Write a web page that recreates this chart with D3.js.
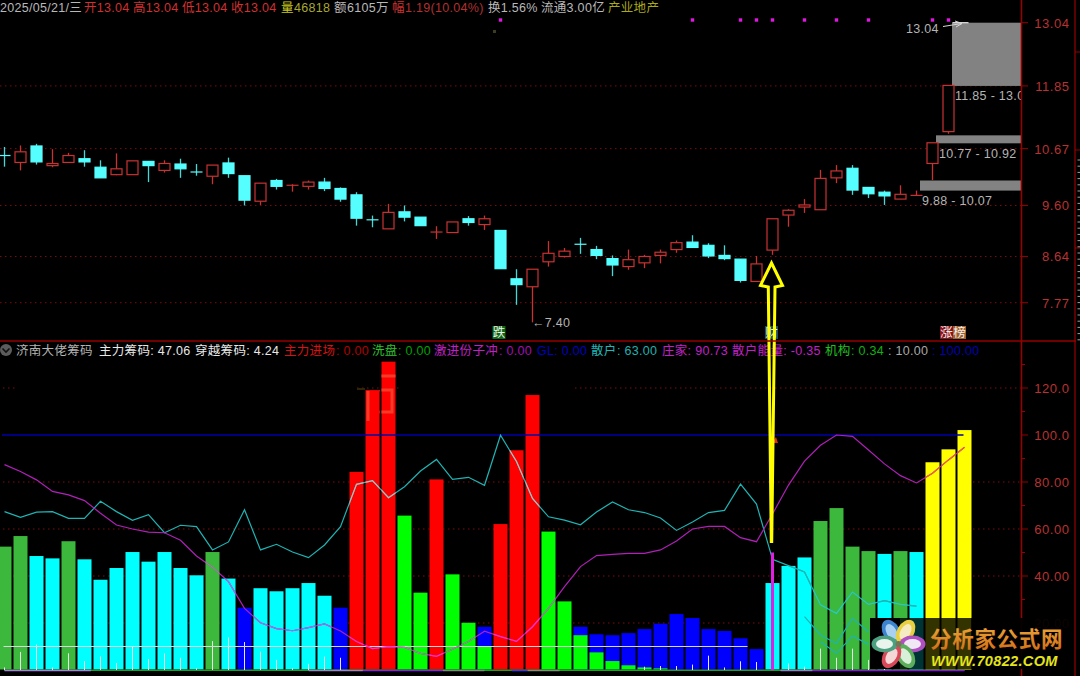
<!DOCTYPE html>
<html><head><meta charset="utf-8">
<style>
html,body{margin:0;padding:0;background:#000;overflow:hidden}
svg{display:block;position:absolute;left:0;top:0}
text{font-family:"Liberation Sans","Noto Sans CJK SC",sans-serif;font-size:12.5px;letter-spacing:.3px}
</style>
<script src="https://cdnjs.cloudflare.com/ajax/libs/d3/7.8.5/d3.min.js"></script>
</head><body><svg id="c" width="1080" height="676"></svg>
<script>
// ---- price panel data
const opens=[10.54,10.41,10.72,10.35,10.41,10.48,10.32,10.18,10.18,10.43,10.26,10.38,10.23,10.15,10.40,10.16,9.68,10.07,9.97,9.96,10.04,9.92,9.80,9.33,9.16,9.48,9.38,9.09,9.09,9.35,9.24,9.13,8.22,8.07,8.54,8.64,8.87,8.77,8.60,8.45,8.52,8.66,8.77,8.91,8.85,8.66,8.59,8.17,8.76,9.42,9.57,9.52,10.12,10.30,9.94,9.85,9.72,9.78,10.39,10.99,13.04];
const closes=[10.51,10.61,10.42,10.39,10.54,10.42,10.12,10.29,10.44,10.35,10.39,10.29,10.22,10.36,10.20,9.70,10.02,9.96,9.98,10.04,9.92,9.72,9.36,9.32,9.47,9.38,9.22,9.10,9.29,9.28,9.35,8.41,8.11,8.40,8.70,8.74,8.86,8.66,8.48,8.58,8.64,8.72,8.90,8.81,8.65,8.60,8.19,8.50,9.35,9.51,9.61,10.11,10.25,9.89,9.82,9.78,9.81,9.79,10.78,11.86,13.04];
const highs=[10.70,10.73,10.76,10.66,10.59,10.64,10.45,10.58,10.44,10.43,10.45,10.48,10.38,10.36,10.50,10.16,10.02,10.10,10.00,10.07,10.12,9.94,9.85,9.41,9.63,9.60,9.38,9.21,9.29,9.40,9.41,9.13,8.40,8.40,8.93,8.80,8.99,8.84,8.66,8.77,8.67,8.77,8.94,9.04,8.89,8.85,8.59,8.65,9.35,9.53,9.72,10.27,10.36,10.36,9.94,9.88,9.98,9.88,10.78,11.86,13.04];
const lows=[10.33,10.26,10.37,10.32,10.41,10.33,10.12,10.17,10.18,10.04,10.22,10.12,10.16,10.00,10.12,9.60,9.61,9.90,9.86,9.90,9.87,9.67,9.22,9.19,9.16,9.30,9.22,8.97,9.09,9.22,9.14,8.41,7.73,7.40,8.45,8.62,8.69,8.59,8.27,8.39,8.42,8.51,8.71,8.81,8.61,8.57,8.15,8.17,8.67,9.20,9.46,9.52,10.02,9.80,9.74,9.61,9.72,9.78,10.08,10.95,13.04];
const priceTicks=[13.04,11.85,10.67,9.60,8.64,7.77];
const dotSlots=[31,43,46,47,48,50,52,54,58,59];
const zoneLow=[9.88,10.77,11.85];
const zoneHigh=[10.07,10.92,13.04];
const zoneSlot=[57,58,59];
const zoneLabel=["9.88 - 10.07","10.77 - 10.92","11.85 - 13.04"];
// ---- indicator panel data
const barTops=[52.5,57,48.5,47.5,54.8,47.1,38.4,43.4,50.2,46.1,50.2,43.4,40.3,50.2,38.9,26.5,34.8,33.5,34.8,37,31.6,26.5,84.3,119.1,131.2,65.7,32.9,81.1,40.7,20.1,18.4,62.1,93.5,117,58.9,29.2,18.4,15.2,14.8,15.7,17.4,19.7,23.8,22.1,17.4,16.6,13.5,8.9,37,44.3,47.9,63.4,68.9,52.5,50.6,49.4,50.6,50.2,88.4,93.9,102.1];
const barKinds="ggccgccccccccgcbcccccbrrrllrllbrrrllbbbbbbbbbbbbcccggggcgcyyy".split("");
const innerGreen={30:9.9,36:14.8,37:7.5,38:3.8,39:2,40:1.1,41:.7};
const retail=[67.4,65,67.2,67.4,64.5,64.5,71.8,67.4,63.7,66.1,58.4,61.6,61,51.1,54.5,68.2,51.1,53.5,50.2,47.8,53.2,61,79,80.6,73.3,78,84.7,89.6,81.1,82,78.6,99.9,88.7,73,65.2,63.8,61.8,67.2,71.5,68.2,67,64.7,59.4,63,67,67.9,79.1,70.6,47.1,44.4,41.7,27.7,24.1,33.2,27.9,29.5,27.9,27.2];
const retail2=[[50,22.7],[51,14.9],[52,11.3],[53,22],[54,16.3]];
const retail3=[[51,12],[52,7.1],[53,14.5],[54,10.9]];
const dealer=[87.4,84.5,80.9,76,74.5,72.1,66.7,61.7,60,58.7,58.4,55.2,48.5,43.7,37.6,26.2,20.1,17.6,16.7,18,19.6,16.6,12.1,9.1,9.9,9.6,7.1,5.8,8.8,12.1,16.5,14.2,12.2,18.4,26.2,35.5,44,48.7,49.2,49.6,49.6,51.1,54.9,60,61.1,61.1,56.3,54.6,66.4,78.7,88.9,95.6,100,99.4,93.6,87.7,82.7,79.6,83.7,89.4,94.8];
const spikes=[1.1,7.7,10.9,1.1,7.1,3.8,5.8,3,10.2,4.7,7.1,5.2,.7,12.3,13.9,11.9,7.8,4.3,.7,2.6,5.7,5.2,0,0,0,0,0,0,0,0,0,0,0,0,0,0,0,0,0,0,1.4,1.7,1.7,2.3,6.1,1.1,3.7,3.4,0,2.8,1.4,9.1,5.2,9.1,4.3,3.5];
const indTicks=[120,100,80,60,40,20];
const indLabels=["120.0","100.0","80.00","60.00","40.00","20.00"];
const baseSegs=[[0,5.4,"#a884d8"],[19,22.4,"#9a88b8"],[22.4,27.4,"#7a30d0"],[27.4,30,"#808880"],[31.7,32.7,"#3a40d0"],[32.7,34.7,"#80907a"],[48.5,50.5,"#9a80c0"],[50.5,60,"#8020d0"]];
// ---- header text
const headLine1=[[0,"2025/05/21/三","#b8b8b8"],[84,"开13.04","#d03030"],[133,"高13.04","#d03030"],[182,"低13.04","#d03030"],[231,"收13.04","#d03030"],[281,"量","#c8c820"],[294,"46818","#a8a830"],[334,"额","#b8b8b8"],[347,"6105万","#b8b8b8"],[392,"幅","#d03030"],[405,"1.19(10.04%)","#b03030"],[488,"换1.56%","#b8b8b8"],[541,"流通3.00亿","#b8b8b8"],[608,"产业地产","#a8a818"]];
const headLine2=[[16,"济南大佬筹码","#b4b4b4"],[99,"主力筹码: 47.06","#e8e8e8"],[195,"穿越筹码: 4.24","#e8e8e8"],[284,"主力进场","#d81010"],[336,": 0.00","#b00000"],[372,"洗盘","#30c030"],[398,": 0.00","#00a000"],[434,"激进份子冲","#c020c8"],[499,": 0.00","#a010b0"],[537,"GL: 0.00","#0000c0"],[591,"散户","#20b8b8"],[617,": 63.00","#20b0b0"],[662,"庄家: 90.73","#c020c8"],[732,"散户能量: -0.35","#c020c8"],[825,"机构","#20c020"],[851,": 0.34","#10b010"],[888,": 10.00","#a8a8a8"],[932,": 100.00","#0000b0"]];

const svg=d3.select("#c");
const defs=svg.append("defs");
const slot=d3.scaleLinear().domain([0,60]).range([4.5,964.5]);
const py=d3.scaleLinear().domain([7.77,13.04]).range([302.7,22.7]);
const iy=d3.scaleLinear().domain([0,120]).range([670,388]);
const RED="#c83232",CY="#55ffff",AX="#960000",GRID="#7c0c0c";
const N=opens.length,idx=d3.range(N);

// grids
const gg=svg.append("g").attr("stroke",GRID).attr("stroke-dasharray","1.5 3.5");
priceTicks.slice(1).forEach(v=>gg.append("line").attr("x1",0).attr("x2",1021).attr("y1",py(v)).attr("y2",py(v)));
[80,60,40,20].forEach(v=>gg.append("line").attr("x1",3).attr("x2",1021).attr("y1",iy(v)).attr("y2",iy(v)));
[[3,18],[357,400],[575,1021]].forEach(s=>gg.append("line").attr("x1",s[0]).attr("x2",s[1]).attr("y1",iy(120)).attr("y2",iy(120)));

// zones
const zg=svg.append("g");
zoneLow.forEach((lo,i)=>{
  const x0=slot(zoneSlot[i])+3.5;
  zg.append("rect").attr("x",x0).attr("width",1021-x0).attr("y",py(zoneHigh[i])).attr("height",py(lo)-py(zoneHigh[i])).attr("fill","#828282");
});
// candles
const cg=svg.append("g");
idx.slice(0,60).forEach(i=>{
  const up=closes[i]>=opens[i],top=Math.max(opens[i],closes[i]),bot=Math.min(opens[i],closes[i]);
  const col=up?RED:CY,x=Math.round(slot(i)-.5)+.5;
  cg.append("line").attr("x1",x).attr("x2",x).attr("y1",py(highs[i])).attr("y2",py(lows[i])).attr("stroke",up?RED:"#45d8d8").attr("stroke-width",1.3);
  const h=py(bot)-py(top);
  if(h<2){cg.append("line").attr("x1",x-6).attr("x2",x+6).attr("y1",py(top)).attr("y2",py(top)).attr("stroke",col).attr("stroke-width",1.2);}
  else cg.append("rect").attr("x",x-5.5).attr("width",11).attr("y",py(top)).attr("height",h).attr("fill",up?"#000":CY).attr("stroke",col).attr("stroke-width",1.2);
});
// limit-up mark
svg.append("line").attr("x1",slot(60)-12).attr("x2",slot(60)+4).attr("y1",py(13.04)).attr("y2",py(13.04)).attr("stroke","#e8e8e8").attr("stroke-width",1.2);
svg.append("path").attr("d",`M943 26.5 L962 23.5 M955 21 L962 23.5 L956 27`).attr("stroke","#d8d8d8").attr("fill","none");
// dots
svg.append("g").selectAll("rect").data(dotSlots).join("rect").attr("x",d=>slot(d)-1.7).attr("y",18.3).attr("width",3.4).attr("height",3.4).attr("fill","#e018e0");
svg.append("rect").attr("x",493).attr("y",30).attr("width",3).attr("height",3).attr("fill","#3c3c20");
// zone labels
const clip0=defs.append("clipPath").attr("id","plotClip");clip0.append("rect").attr("x",0).attr("y",0).attr("width",1021).attr("height",341);
const lab=svg.append("g").attr("clip-path","url(#plotClip)").attr("fill","#b4b4b4");
lab.append("text").attr("x",922).attr("y",205).text(zoneLabel[0]);
lab.append("text").attr("x",939).attr("y",158).text(zoneLabel[1]);
lab.append("text").attr("x",955).attr("y",100).text(zoneLabel[2]);
lab.append("text").attr("x",906).attr("y",33).text(d3.format(".2f")(highs[60]));
lab.append("text").attr("x",532).attr("y",327).text("←"+d3.format(".2f")(lows[33]));

// markers
function tag(x,w,bg,t){svg.append("rect").attr("x",x).attr("y",326).attr("width",w).attr("height",13).attr("fill",bg);
  svg.append("text").attr("x",x+w/2).attr("y",337).attr("text-anchor","middle").attr("fill","#f0f0f0").style("font-size","12.5px").style("letter-spacing","0").text(t);}
tag(492.5,13,"#0c6a14","跌");tag(765,13,"#14506e","财");tag(940,13,"#8c1218","涨");tag(953,13,"#a0602c","榜");

// header
function heads(list,y){list.forEach(d=>svg.append("text").attr("x",d[0]).attr("y",y).attr("fill",d[2]).text(d[1]));}
heads(headLine1,12);heads(headLine2,355);
svg.append("circle").attr("cx",6).attr("cy",350).attr("r",6).attr("fill","#5c5c5c");
svg.append("path").attr("d","M2.5 348.5 L6 352 L9.5 348.5").attr("stroke","#111").attr("stroke-width",1.6).attr("fill","none");

// bars
const COL={g:"#3cb83c",c:"#00ffff",b:"#0000ff",r:"#ff0000",l:"#00ff00",y:"#ffff00"};
const kindAt=i=>barKinds[i];
const bg=svg.append("g");
idx.forEach(i=>{
  const x=slot(i)-7,k=kindAt(i);
  bg.append("rect").attr("x",x).attr("width",14).attr("y",iy(barTops[i])).attr("height",iy(0)-iy(barTops[i])-.5).attr("fill",COL[k]);
  if(innerGreen[i]) bg.append("rect").attr("x",x).attr("width",14).attr("y",iy(innerGreen[i])).attr("height",iy(0)-iy(innerGreen[i])-.5).attr("fill","#00ff00");
});
// ghost mark on the red bars
const ghostClip=defs.append("clipPath").attr("id","ghost");
[23,24].forEach(i=>ghostClip.append("rect").attr("x",slot(i)-7).attr("width",14).attr("y",iy(barTops[i])).attr("height",60));
svg.append("path").attr("clip-path","url(#ghost)").attr("d","M368 391V421 M379 390H392V412H379 M377 376H396").attr("stroke","#f53a28").attr("stroke-width",3).attr("fill","none");
svg.append("line").attr("x1",357).attr("x2",365).attr("y1",389).attr("y2",389).attr("stroke","#2e2408").attr("stroke-width",2);
// base strip
svg.append("line").attr("x1",slot(0)).attr("x2",slot(60)).attr("y1",670.3).attr("y2",670.3).attr("stroke","#22a022").attr("stroke-width",1.6);
baseSegs.forEach(s=>svg.append("line").attr("x1",slot(s[0])).attr("x2",slot(s[1])).attr("y1",670.5).attr("y2",670.5).attr("stroke",s[2]).attr("stroke-width",1.6));
// spikes
svg.append("g").selectAll("line").data(spikes).join("line").attr("x1",(d,i)=>slot(i)).attr("x2",(d,i)=>slot(i)).attr("y1",d=>iy(d)).attr("y2",iy(0)).attr("stroke","#e8e8e8").attr("stroke-width",d=>d>0?1:0);
// ten line
svg.append("line").attr("x1",slot(0)-1).attr("x2",slot(46)+7).attr("y1",iy(10)).attr("y2",iy(10)).attr("stroke","#d8d8d8").attr("stroke-width",1.2);
// hundred line
svg.append("line").attr("x1",2).attr("x2",slot(60)-1).attr("y1",iy(100)).attr("y2",iy(100)).attr("stroke","#0000a8").attr("stroke-width",1.6);
// indicator lines
const lineGen=d3.line().x((d,i)=>slot(i)).y(d=>iy(d));
const pairGen=d3.line().x(d=>slot(d[0])).y(d=>iy(d[1]));
const lg=svg.append("g").attr("fill","none").attr("stroke-width",1.2);
lg.append("path").attr("d",lineGen(retail)).attr("stroke","#1fb4b4");
lg.append("path").attr("d",pairGen(retail2)).attr("stroke","#1fb4b4");
lg.append("path").attr("d",pairGen(retail3)).attr("stroke","#1fb4b4");
lg.append("path").attr("d",lineGen(dealer)).attr("stroke","#b020b8");
// recoloured overlaps where a line crosses a bar
const overlaps=[["r","#b8b8b8","#ff30c0"],["l","#40e0b0","#909090"],["g","#30c8b0","#909090"],["c","#1fb4b4","#a070e8"],["y",null,"#f06040"]];
overlaps.forEach(o=>{
  const id="ov"+o[0];
  const cp=defs.append("clipPath").attr("id",id);
  idx.filter(i=>kindAt(i)===o[0]).forEach(i=>cp.append("rect").attr("x",slot(i)-7).attr("width",14).attr("y",iy(barTops[i])).attr("height",iy(0)-iy(barTops[i])));
  const g=svg.append("g").attr("clip-path",`url(#${id})`).attr("fill","none").attr("stroke-width",1.2);
  if(o[1]) g.append("path").attr("d",lineGen(retail)).attr("stroke",o[1]);
  g.append("path").attr("d",lineGen(dealer)).attr("stroke",o[2]);
});
// magenta bar
svg.append("line").attr("x1",slot(48)).attr("x2",slot(48)).attr("y1",iy(50)).attr("y2",iy(0)).attr("stroke","#e020e0").attr("stroke-width",3);
// small triangle
svg.append("path").attr("d","M772 443 L776 437 L778 443Z").attr("fill","#e03010");
// yellow arrow
svg.append("path").attr("d","M771.3 543 L768.3 287 L760.5 285.5 L771.5 263 L782.5 285.5 L775 287 L771.7 543").attr("fill","none").attr("stroke","#ffff00").attr("stroke-width",3).attr("stroke-linejoin","miter");
// divider and axes
const ax=svg.append("g").attr("stroke",AX);
ax.append("line").attr("x1",0).attr("x2",1076).attr("y1",341).attr("y2",341).attr("stroke-width",1.6);
ax.append("line").attr("x1",1021.5).attr("x2",1021.5).attr("y1",0).attr("y2",676).attr("stroke-width",1.6);
ax.append("line").attr("x1",1075).attr("x2",1075).attr("y1",0).attr("y2",676).attr("stroke-width",1.2);
priceTicks.forEach(v=>ax.append("line").attr("x1",1021).attr("x2",1028).attr("y1",py(v)).attr("y2",py(v)));
indTicks.forEach(v=>ax.append("line").attr("x1",1021).attr("x2",1028).attr("y1",iy(v)).attr("y2",iy(v)));
indTicks.forEach(v=>ax.append("line").attr("x1",1021).attr("x2",1025).attr("y1",iy(v+10)).attr("y2",iy(v+10)));
[52,150,248].forEach(y=>ax.append("line").attr("x1",1075).attr("x2",1080).attr("y1",y).attr("y2",y));
// outer scale ticks
const outer=d3.range(160,340,6.2);
svg.append("g").selectAll("line").data(outer).join("line").attr("x1",1077.5).attr("x2",1080).attr("y1",d=>d).attr("y2",d=>d).attr("stroke","#a0a0a0");
const tl=svg.append("g").attr("fill","#b83232").attr("text-anchor","end");
priceTicks.forEach(v=>tl.append("text").attr("x",1069.5).attr("y",py(v)+5).style("font-size","13px").style("letter-spacing",".55px").text(d3.format(".2f")(v)));
indTicks.forEach((v,i)=>tl.append("text").attr("x",1069.5).attr("y",iy(v)+5).style("font-size","13px").style("letter-spacing",".55px").text(indLabels[i]));

// watermark
const wm=svg.append("g");
wm.append("rect").attr("x",870).attr("y",618).attr("width",101).attr("height",51).attr("fill","#000").attr("opacity",.8);
wm.append("rect").attr("x",870).attr("y",618).attr("width",30).attr("height",51).attr("fill","#000");
wm.append("rect").attr("x",971).attr("y",618).attr("width",101).attr("height",51).attr("fill","#000").attr("opacity",.93);
const grad=defs.append("linearGradient").attr("id","gold").attr("x1",0).attr("x2",0).attr("y1",0).attr("y2",1);
grad.append("stop").attr("offset",0).attr("stop-color","#f0b040");grad.append("stop").attr("offset",1).attr("stop-color","#d06a14");
const petals=[[-120,"#3c84d0","#a8d0f0"],[-60,"#e8d040","#f4ecc0"],[0,"#b050c0","#f0e8f4"],[60,"#5cae5c","#d8f0d8"],[120,"#d84858","#f4d8d8"],[180,"#4ca080","#e8f4ec"]];
petals.forEach(p=>{
  const g=wm.append("g").attr("transform",`translate(898.5,644) rotate(${p[0]}) translate(14,0)`);
  g.append("ellipse").attr("rx",13).attr("ry",8.5).attr("fill",p[1]);
  g.append("ellipse").attr("rx",8.5).attr("ry",5).attr("fill",p[2]);
});
wm.append("circle").attr("cx",898.5).attr("cy",644).attr("r",3).attr("fill","#707858");
wm.append("text").attr("x",930).attr("y",646.5).attr("fill","url(#gold)").style("font-size","21.5px").style("font-weight","700").style("letter-spacing",".7px").style("font-family","'Noto Sans CJK SC'").text("分析家公式网");
wm.append("text").attr("x",931).attr("y",666).attr("fill","#e4e41c").style("font-size","14.5px").style("font-weight","700").style("font-style","italic").style("letter-spacing",".35px").text("WWW.70822.COM");
</script></body></html>
